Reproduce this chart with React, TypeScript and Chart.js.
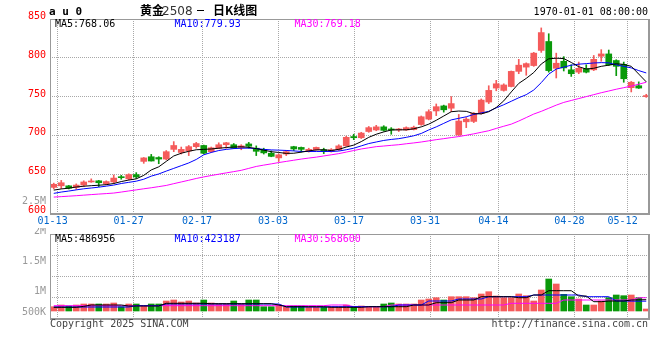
import React, { useEffect, useRef } from 'react';
import { Chart, registerables } from 'chart.js';

Chart.register(...registerables);

// ---------- data ----------
const dates = [
  '01-09','01-10','01-13','01-14','01-15','01-16','01-17','01-20','01-21','01-22',
  '01-23','01-24','01-27','02-05','02-06','02-07','02-10','02-11','02-12','02-13',
  '02-14','02-17','02-18','02-19','02-20','02-21','02-24','02-25','02-26','02-27',
  '02-28','03-03','03-04','03-05','03-06','03-07','03-10','03-11','03-12','03-13',
  '03-14','03-17','03-18','03-19','03-20','03-21','03-24','03-25','03-26','03-27',
  '03-28','03-31','04-01','04-02','04-03','04-07','04-08','04-09','04-10','04-11',
  '04-14','04-15','04-16','04-17','04-18','04-21','04-22','04-23','04-24','04-25',
  '04-28','04-29','04-30','05-06','05-07','05-08','05-09','05-12','05-13','05-14',
];

const opens = [
  633,635,635,633,636,640,641.5,637.5,640,646.5,
  644,649.5,666.5,672.5,671.5,669.5,682,678,680,685.5,
  687,679,683.5,688,688,684.5,689,683.5,682,677,
  671,676,685.5,684.5,679.5,681.5,681.5,679.5,681.5,686.5,
  698.5,697,705,707,711,708,707,707,707.5,714,
  721,731.5,738,735,700.5,717.5,718,728.5,743,761,
  758,763,782.5,788,790,809.5,821,786.5,795.5,784.5,
  781.5,786,784.5,802,805,796.5,791.5,761.5,764,750,
];
const highs = [
  638.5,642,635.5,637.5,641.5,644,642,641.5,649,648.5,
  650.5,652,671.5,675.5,672.5,680.5,692,685,687,691,
  687.5,685,690.5,691,689.5,688,691,686.5,683.5,680,
  676,680.5,686,685,683.5,685,683.5,683,688,699,
  701.5,704,711.5,713,712.5,710,709,711,712,725,
  733,740.5,739,750,727,723,729.5,747,764,771,
  766.5,783,798,793.5,807,838.5,831,806,801.5,791,
  794.5,791,803,810.5,810,797.5,794.5,769.5,769,753,
];
const lows = [
  631,631.5,631,630.5,634,639.5,634,636.5,638,643.5,
  642.5,644.5,664,667,663.5,668.5,679,676,674,683.5,
  676,678,683,683.5,683,681.5,683.5,674,676,672.5,
  666.5,674,680.5,678.5,678.5,681,676.5,678.5,680.5,686,
  694.5,696,704,706,705.5,701.5,705,706.5,707,713,
  720,725.5,730,730.5,700,710,716.5,727.5,741,757.5,
  757,762.5,779.5,777.5,789,807,781.5,774,783,776,
  779.5,780.5,783.5,795.5,790,777,768.5,756,760.5,749,
];
const closes = [
  637,639,632,636,640,641,639,640.5,645,645.5,
  649.5,646.5,671,667,669.5,679,687,682,685.5,689.5,
  677,684,688,690.5,683.5,686.5,686,679.5,677.5,673,
  675,679,682.5,682,682,684.5,679.5,681.5,686.5,697.5,
  697,703,710,711,706.5,707,708,710,710.5,724,
  730.5,737,733,741,718.5,721,728.5,745.5,758,766.5,
  765,782.5,790.5,792.5,806,832.5,783.5,793,787,779.5,
  786.5,781.5,798,805,791,789,773,768.5,761,750.3,
];

const ma5 = [
  629.5,631,632,633.5,634.5,635.2,635.8,636.5,638,640.5,
  642.5,644,648.5,655.5,659.5,666.5,673.5,677,679.5,681.5,
  682,682.5,683.5,684.3,685,685.3,684.6,683,681,679,
  678,676.8,677,678.4,680,681.3,681.5,680.5,682,685,
  687.5,692,697.5,701.5,704.5,707,707.2,707.2,708.5,711,
  714.5,719.5,725,730.5,731.4,731,728,727.7,730.5,736,
  744.5,756,767,773.5,781,792,798.7,799.5,799,794,
  788.5,785.5,786.5,789,790.5,792.3,791.5,789,779,769,
];
const ma10 = [
  625.3,627,628.3,629.8,631.2,632.2,633.3,634.6,636,638,
  639.5,641,643.5,647.5,650.3,654,657.5,661,664.5,669,
  675,678,680.5,682,683,683.5,683.6,683,682,681.3,
  681,680.6,680,679.3,679.3,679.3,679.3,679.3,679.8,681.5,
  683.5,686.5,689.5,691.5,693.5,694.8,695.8,697.5,699.5,702.5,
  707,711,715.5,720,722,724,727,729,731,735.5,
  739.5,744,748.5,752.5,758.5,768,779,785.5,788,790.5,
  791.8,792.5,793.3,793.8,793.5,791,789,787,783.5,780.5,
];
const ma30 = [
  620.5,621.1,621.7,622.3,623,623.7,624.4,625,625.7,627,
  628.4,629.8,631.2,632.5,634,635.5,637.8,640,642.2,644.5,
  646.5,648.3,650,651.7,653.3,655,657.5,660,661.7,663.3,
  665,666.5,668,669.5,670.8,672,673.5,675,676.5,678.5,
  680.5,682.5,684,685.5,686.3,687.2,688,689.2,690.3,691.5,
  693,694.5,695.8,697.2,698.5,700.2,702,704,706,709,
  711.8,714.5,718.5,723,727.5,731,735,739,742.5,745,
  747.5,750,752.5,755,757.2,759.5,761.5,763.5,766,768.5,
];

const volumes = [
  185000,258000,215000,258000,301000,301000,301000,301000,344000,185000,
  301000,301000,215000,301000,301000,430000,473000,387000,430000,344000,
  473000,344000,301000,301000,430000,301000,473000,473000,185000,185000,
  258000,159000,215000,215000,159000,159000,159000,185000,185000,258000,
  185000,215000,185000,185000,301000,344000,301000,301000,301000,473000,
  516000,572000,473000,615000,615000,615000,572000,731000,830000,645000,
  572000,572000,731000,658000,430000,903000,1376000,1161000,718000,615000,
  516000,258000,258000,430000,572000,688000,658000,688000,572000,86000,
];
const volMa5 = [
  159000,159000,159000,159000,200000,258000,258000,258000,258000,258000,
  215000,215000,215000,215000,215000,331000,331000,331000,331000,331000,
  331000,314000,314000,314000,314000,314000,314000,314000,314000,314000,
  258000,185000,185000,185000,185000,185000,185000,159000,159000,159000,
  159000,159000,185000,185000,185000,185000,185000,185000,258000,258000,
  258000,357000,357000,357000,473000,473000,473000,615000,615000,615000,
  615000,615000,572000,572000,688000,688000,873000,873000,873000,873000,
  645000,645000,400000,400000,430000,430000,430000,473000,480000,487000,
];
const volMa10 = [
  172000,172000,172000,172000,172000,172000,172000,172000,172000,172000,
  172000,228000,228000,228000,228000,301000,301000,301000,301000,301000,
  301000,301000,301000,301000,301000,301000,301000,301000,301000,301000,
  301000,172000,172000,172000,172000,172000,172000,185000,185000,185000,
  185000,185000,185000,185000,185000,185000,258000,258000,258000,258000,
  430000,430000,430000,430000,516000,516000,516000,516000,615000,615000,
  615000,615000,615000,615000,688000,688000,688000,688000,688000,688000,
  688000,615000,615000,615000,615000,430000,430000,425000,423000,423000,
];
const volMa30 = [
  228000,228000,228000,228000,228000,228000,228000,228000,228000,228000,
  228000,228000,228000,228000,228000,228000,228000,228000,228000,228000,
  228000,228000,228000,228000,228000,228000,228000,228000,228000,228000,
  228000,228000,228000,228000,228000,228000,228000,258000,258000,258000,
  185000,185000,185000,185000,185000,258000,258000,258000,258000,258000,
  258000,258000,258000,258000,258000,258000,258000,258000,258000,258000,
  258000,331000,331000,331000,331000,331000,331000,331000,473000,473000,
  473000,473000,473000,473000,473000,473000,473000,473000,569000,569000,
];

// date-axis ticks (in trading-day units)
const tickDays = [1, 11, 20, 30, 40, 50, 59, 69, 76];
const tickLabels = ['01-13','01-27','02-17','03-03','03-17','03-31','04-14','04-28','05-12'];
const priceTicks = [600, 650, 700, 750, 800, 850];
const volAxisLabels = ['2M', '1.5M', '1M', '500K'];

const symbolText = 'a u 0';
const titleName = '黄金';
const titleCode = '2508';
const titleKind = '日K线图';
const timeText = '1970-01-01 08:00:00';
const mainLegend = ['MA5:768.06', 'MA10:779.93', 'MA30:769.18'];
const volLegend = ['MA5:486956', 'MA10:423187', 'MA30:568600'];
const copyrightText = 'Copyright 2025 SINA.COM';
const urlText = 'http://finance.sina.com.cn';

// ---------- styles ----------
const RED = '#f55b5b';
const GREEN = '#0a990a';
const GRID = '#a8a8a8';
const FRAME = '#999999';
const MONO = "'DejaVu Sans Mono', monospace";
const CJK = "'Noto Sans CJK SC', sans-serif";
const LEGEND_COLORS = ['#000000', '#0000ff', '#ff00ff'];
const LEGEND_X = [55, 174.5, 294.5];
const DAY_UNITS = 600 / 7.6;

const candleColors = opens.map((o, i) => (closes[i] >= o ? RED : GREEN));

function drawFrame(ctx: CanvasRenderingContext2D, a: any) {
  ctx.fillStyle = FRAME;
  ctx.fillRect(a.left, a.top, a.right - a.left, 1);
  ctx.fillRect(a.left, a.top, 1, a.bottom - a.top + 1);
  ctx.fillRect(a.right - 2, a.top, 2, a.bottom - a.top + 2);
  ctx.fillRect(a.left, a.bottom, a.right - a.left, 2);
}

const mainDecor = {
  id: 'mainDecor',
  afterDraw(chart: any) {
    const { ctx, chartArea: a } = chart;
    ctx.save();
    drawFrame(ctx, a);
    ctx.textBaseline = 'alphabetic';
    // header
    ctx.fillStyle = '#000';
    ctx.font = `bold 11px ${MONO}`;
    ctx.textAlign = 'left';
    ctx.fillText(symbolText, 49, 15);
    ctx.font = `bold 12px ${CJK}`;
    ctx.fillText(titleName, 140, 14.5);
    ctx.font = "12px 'DejaVu Sans', sans-serif";
    ctx.fillStyle = '#333';
    ctx.fillText(titleCode, 162, 14.5);
    ctx.fillStyle = '#000';
    ctx.fillRect(197, 10, 7, 1);
    ctx.font = `bold 12px ${CJK}`;
    ctx.fillText(titleKind, 213, 14.5);
    ctx.font = `10px ${MONO}`;
    ctx.textAlign = 'right';
    ctx.fillText(timeText, 648, 15);
    // legend
    ctx.textAlign = 'left';
    mainLegend.forEach((t, i) => {
      ctx.fillStyle = LEGEND_COLORS[i];
      ctx.fillText(t, LEGEND_X[i], 27);
    });
    // stray volume label
    ctx.fillStyle = '#999';
    ctx.textAlign = 'right';
    ctx.fillText('2.5M', 46, 203.5);
    ctx.restore();
  },
};

const volDecor = {
  id: 'volDecor',
  afterDraw(chart: any) {
    const { ctx, chartArea: a } = chart;
    ctx.save();
    drawFrame(ctx, a);
    ctx.textBaseline = 'alphabetic';
    ctx.font = `10px ${MONO}`;
    ctx.textAlign = 'left';
    volLegend.forEach((t, i) => {
      ctx.fillStyle = LEGEND_COLORS[i];
      ctx.fillText(t, LEGEND_X[i], 14);
    });
    ctx.fillStyle = '#999';
    ctx.textAlign = 'right';
    const ys = [5.5, 35.5, 66, 86.5];
    volAxisLabels.forEach((t, i) => ctx.fillText(t, 46, ys[i]));
    ctx.fillStyle = '#444';
    ctx.textAlign = 'left';
    ctx.fillText(copyrightText, 50, 99);
    ctx.textAlign = 'right';
    ctx.fillText(urlText, 648, 99);
    ctx.restore();
  },
};

const lineDs = (label: string, data: number[], color: string) => ({
  type: 'line' as const,
  label,
  data,
  borderColor: color,
  borderWidth: 1,
  pointRadius: 0,
  tension: 0,
  order: 0,
  xAxisID: 'x',
  yAxisID: 'y',
});

const dateAxis = (showLabels: boolean, height: number) => ({
  type: 'linear' as const,
  position: 'bottom' as const,
  offset: false,
  min: 0,
  max: DAY_UNITS,
  afterBuildTicks: (s: any) => {
    s.ticks = tickDays.map((v) => ({ value: v }));
  },
  afterFit: (s: any) => {
    s.height = height;
  },
  grid: { color: GRID, drawTicks: false, lineWidth: 1, offset: false },
  border: { display: false, dash: [1, 1] },
  ticks: {
    display: showLabels,
    callback: (_v: any, i: number) => tickLabels[i] ?? '',
    color: '#0066cc',
    font: { family: MONO, size: 10 },
    padding: 2,
    labelOffset: -5,
    autoSkip: false,
    maxRotation: 0,
    minRotation: 0,
  },
});

export default function App() {
  const mainRef = useRef<HTMLCanvasElement>(null);
  const volRef = useRef<HTMLCanvasElement>(null);

  useEffect(() => {
    const main = new Chart(mainRef.current as HTMLCanvasElement, {
      type: 'bar',
      data: {
        labels: dates,
        datasets: [
          lineDs('MA5', ma5, '#000000'),
          lineDs('MA10', ma10, '#0000ff'),
          lineDs('MA30', ma30, '#ff00ff'),
          {
            type: 'bar',
            label: 'body',
            data: opens.map((o, i) => [o, closes[i]]),
            backgroundColor: candleColors,
            borderWidth: 0,
            barThickness: 6,
            grouped: false,
            minBarLength: 1,
            order: 1,
            xAxisID: 'x',
            yAxisID: 'y',
          } as any,
          {
            type: 'bar',
            label: 'wick',
            data: lows.map((l, i) => [l, highs[i]]),
            backgroundColor: candleColors,
            borderWidth: 0,
            barThickness: 1,
            grouped: false,
            order: 2,
            xAxisID: 'x',
            yAxisID: 'y',
          } as any,
        ],
      },
      options: {
        responsive: false,
        animation: false,
        devicePixelRatio: 1,
        layout: { padding: { left: 0, right: 10, top: 19, bottom: 0 } },
        plugins: { legend: { display: false }, tooltip: { enabled: false } },
        scales: {
          x: { type: 'category', display: false, offset: true },
          xt: dateAxis(true, 15),
          y: {
            type: 'linear',
            position: 'left',
            min: 600,
            max: 850,
            afterFit: (s: any) => {
              s.width = 50;
            },
            afterBuildTicks: (s: any) => {
              s.ticks = priceTicks.map((v) => ({ value: v }));
            },
            grid: {
              drawTicks: false,
              color: (c: any) =>
                c.tick && (c.tick.value === 600 || c.tick.value === 850) ? 'rgba(0,0,0,0)' : GRID,
            },
            border: { display: false, dash: [1, 1] },
            ticks: {
              color: '#ff0000',
              font: { family: MONO, size: 10 },
              padding: 4,
              labelOffset: -2.5,
            },
          },
        } as any,
      },
      plugins: [mainDecor],
    } as any);

    const VMIN = -301000;
    const VMAX = 3311000;
    const vol = new Chart(volRef.current as HTMLCanvasElement, {
      type: 'bar',
      data: {
        labels: dates,
        datasets: [
          lineDs('VMA5', volMa5, '#000000'),
          lineDs('VMA10', volMa10, '#0000ff'),
          lineDs('VMA30', volMa30, '#ff00ff'),
          {
            type: 'bar',
            label: 'volume',
            data: volumes,
            backgroundColor: candleColors,
            borderWidth: 0,
            barThickness: 6,
            order: 1,
            xAxisID: 'x',
            yAxisID: 'y',
          } as any,
        ],
      },
      options: {
        responsive: false,
        animation: false,
        devicePixelRatio: 1,
        layout: { padding: { left: 0, right: 10, top: 6, bottom: 42 } },
        plugins: { legend: { display: false }, tooltip: { enabled: false } },
        scales: {
          x: { type: 'category', display: false, offset: true },
          xt: dateAxis(false, 0),
          y: {
            type: 'linear',
            position: 'left',
            min: VMIN,
            max: VMAX,
            afterFit: (s: any) => {
              s.width = 50;
            },
            afterBuildTicks: (s: any) => {
              s.ticks = [0, 1, 2, 3, 4].map((k) => ({ value: VMIN + (k * (VMAX - VMIN)) / 4 }));
            },
            grid: {
              drawTicks: false,
              color: (c: any) => (c.index === 0 || c.index === 4 ? 'rgba(0,0,0,0)' : GRID),
            },
            border: { display: false, dash: [1, 1] },
            ticks: { display: false },
          },
        } as any,
      },
      plugins: [volDecor],
    } as any);

    return () => {
      main.destroy();
      vol.destroy();
    };
  }, []);

  return (
    <div
      style={{
        position: 'absolute',
        left: 0,
        top: 0,
        width: 660,
        height: 360,
        background: '#ffffff',
        overflow: 'hidden',
      }}
    >
      <canvas
        ref={mainRef}
        width={660}
        height={228}
        style={{ position: 'absolute', left: 0, top: 0, display: 'block' }}
      />
      <canvas
        ref={volRef}
        width={660}
        height={132}
        style={{ position: 'absolute', left: 0, top: 228, display: 'block' }}
      />
    </div>
  );
}
